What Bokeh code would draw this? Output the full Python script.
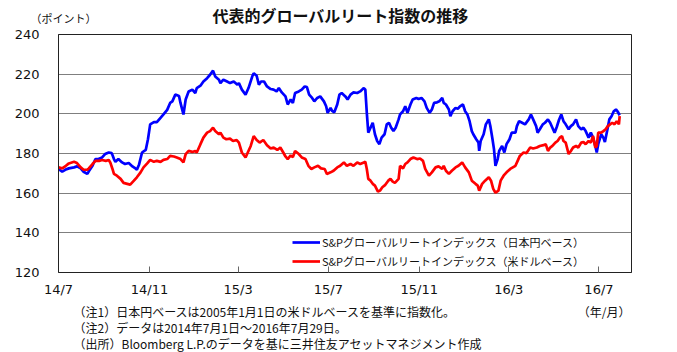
import pandas as pd
from bokeh.plotting import figure
from bokeh.layouts import column
from bokeh.models import Range1d, FixedTicker, Label, Legend, LegendItem
from bokeh.embed import file_html
from bokeh.resources import INLINE

# ---------------- data ----------------
start_date = "2014-07-01"
tick_dates = ["2014-07-01", "2014-11-01", "2015-03-01", "2015-07-01",
              "2015-11-01", "2016-03-01", "2016-07-01"]
tick_labels = ["14/7", "14/11", "15/3", "15/7", "15/11", "16/3", "16/7"]
y_ticks = [120, 140, 160, 180, 200, 220, 240]

# days since 2014-07-01 / index values, S&P Global REIT (JPY basis)
jpy_days = [0, 5, 9, 14, 21, 25, 30, 34, 39, 41, 46, 50, 54, 59, 63, 68, 72, 75, 77, 81,
            86, 90, 95, 100, 104, 106, 109, 113, 118, 121, 124, 129, 133, 138, 142, 147,
            151, 154, 158, 163, 165, 169, 172, 176, 181, 185, 187, 192, 196, 201, 205, 209,
            212, 217, 219, 223, 228, 232, 237, 242, 244, 248, 253, 257, 262, 264, 268, 271,
            274, 278, 282, 287, 291, 295, 298, 302, 307, 310, 314, 317, 320, 325, 329, 333,
            336, 339, 343, 346, 350, 354, 359, 362, 364, 368, 370, 373, 377, 380, 383, 388,
            391, 395, 399, 404, 408, 413, 415, 417, 419, 422, 425, 428, 431, 434, 437, 441,
            444, 447, 450, 453, 456, 460, 462, 466, 469, 472, 476, 479, 484, 487, 491, 495,
            498, 502, 505, 508, 512, 515, 519, 521, 524, 528, 530, 533, 537, 540, 543, 547,
            550, 553, 556, 559, 561, 565, 568, 569, 571, 575, 578, 582, 584, 587, 589, 591,
            594, 596, 600, 603, 606, 610, 613, 618, 620, 623, 627, 631, 636, 639, 642, 646,
            648, 651, 655, 658, 662, 665, 668, 671, 674, 677, 680, 683, 686, 690, 693, 696,
            700, 703, 707, 710, 713, 717, 720, 723, 726, 728, 730, 734, 737, 739, 742, 745,
            748, 751, 754, 756, 759]
jpy_vals = [172.2, 170.8, 171.8, 172.5, 173.0, 173.5, 172.5, 170.8, 169.7, 171.0, 173.8, 177.2,
            177.2, 178.0, 179.7, 180.5, 180.2, 177.2, 175.8, 177.2, 175.5, 174.7, 175.2, 173.5,
            172.5, 171.8, 174.5, 180.5, 181.8, 187.2, 194.7, 195.8, 195.8, 198.0, 199.7, 202.0,
            205.5, 206.3, 209.7, 209.0, 205.5, 199.7, 207.2, 211.3, 212.2, 210.5, 213.0, 214.2,
            216.3, 218.0, 219.7, 221.8, 218.8, 217.2, 215.5, 217.2, 216.3, 215.5, 216.3, 214.7,
            215.5, 212.2, 209.7, 213.0, 218.8, 220.5, 219.2, 214.7, 216.3, 216.3, 213.8, 212.5,
            212.2, 211.3, 213.0, 210.8, 208.8, 204.7, 207.2, 205.5, 210.5, 211.3, 212.2, 213.8,
            213.5, 209.7, 208.0, 206.3, 208.0, 208.8, 206.3, 203.8, 200.5, 203.0, 201.5, 200.8,
            204.7, 209.7, 210.5, 208.8, 207.2, 209.7, 210.8, 210.5, 211.3, 213.0, 212.2, 200.5,
            190.5, 193.0, 195.5, 189.7, 186.3, 184.7, 188.0, 189.7, 194.7, 195.5, 193.0, 191.3,
            193.0, 197.2, 199.7, 201.3, 203.8, 200.5, 204.7, 207.2, 208.0, 207.5, 208.0, 206.3,
            203.0, 200.5, 202.2, 205.5, 205.8, 206.3, 208.0, 205.5, 204.7, 202.2, 198.8, 201.3,
            203.0, 202.5, 203.8, 204.7, 201.3, 199.7, 196.3, 191.3, 189.7, 187.2, 185.5, 181.3,
            186.3, 189.7, 194.7, 197.2, 194.0, 187.2, 182.2, 173.8, 177.2, 181.3, 183.8, 180.5,
            184.7, 187.2, 190.5, 190.5, 193.8, 196.3, 195.5, 194.7, 197.2, 199.7, 197.2, 193.8,
            190.5, 192.2, 194.7, 195.5, 197.2, 195.5, 193.0, 190.5, 193.5, 197.0, 199.7, 196.3,
            194.7, 192.2, 193.8, 194.7, 197.2, 193.8, 192.2, 193.0, 191.3, 188.0, 190.5, 188.0,
            183.8, 180.5, 184.7, 189.7, 188.0, 185.8, 191.3, 197.2, 198.8, 201.3, 202.2, 201.3,
            199.3]

# S&P Global REIT (USD basis)
usd_days = [0, 5, 10, 14, 21, 25, 30, 34, 39, 41, 46, 50, 55, 59, 64, 68, 70, 73, 75, 79,
            84, 88, 93, 97, 102, 106, 111, 115, 120, 124, 129, 133, 138, 142, 147, 151, 156,
            160, 165, 169, 172, 176, 181, 185, 187, 192, 196, 201, 205, 209, 212, 217, 219,
            223, 227, 232, 236, 241, 244, 248, 253, 256, 260, 264, 268, 272, 277, 282, 287,
            291, 296, 300, 304, 307, 310, 314, 317, 320, 325, 329, 334, 338, 342, 346, 351,
            355, 360, 363, 368, 372, 377, 381, 386, 390, 395, 399, 404, 408, 413, 415, 417,
            419, 422, 425, 428, 432, 435, 438, 442, 446, 449, 452, 455, 460, 462, 466, 469,
            472, 476, 480, 485, 489, 493, 496, 501, 505, 510, 514, 519, 521, 524, 528, 532,
            537, 541, 546, 550, 555, 559, 564, 567, 569, 573, 577, 582, 585, 588, 591, 595,
            598, 602, 606, 611, 618, 621, 624, 629, 633, 638, 642, 647, 651, 656, 659, 662,
            665, 668, 672, 675, 678, 681, 683, 686, 690, 693, 696, 700, 703, 707, 710, 713,
            717, 720, 723, 726, 728, 730, 734, 737, 740, 743, 746, 749, 752, 755, 758, 759]
usd_vals = [173.0, 172.5, 173.8, 175.0, 175.8, 175.2, 173.0, 171.8, 171.8, 172.5, 174.7, 176.3,
            176.3, 176.7, 176.3, 176.7, 175.5, 172.2, 169.7, 168.8, 167.2, 165.2, 164.7, 164.3,
            166.3, 168.0, 170.5, 173.0, 175.0, 176.8, 175.8, 176.3, 175.8, 176.8, 177.2, 178.8,
            178.5, 178.0, 177.2, 175.5, 179.7, 181.3, 180.8, 181.3, 180.5, 184.7, 188.0, 190.5,
            191.3, 193.0, 191.3, 189.7, 190.5, 188.0, 187.2, 187.5, 186.3, 186.8, 185.5, 180.5,
            178.0, 180.5, 183.8, 188.8, 186.8, 185.5, 186.8, 184.2, 182.5, 183.0, 181.8, 183.0,
            180.5, 178.5, 177.2, 179.0, 178.2, 181.3, 179.7, 178.0, 177.2, 173.8, 172.2, 173.0,
            173.8, 172.5, 172.2, 169.7, 170.5, 171.3, 173.0, 173.8, 175.5, 173.8, 174.7, 173.8,
            175.5, 174.7, 175.5, 175.8, 172.2, 167.2, 166.3, 164.7, 163.8, 160.8, 161.3, 163.0,
            164.2, 166.3, 167.2, 165.8, 165.2, 167.2, 173.8, 172.5, 174.7, 175.5, 177.2, 178.0,
            177.2, 177.5, 176.3, 172.2, 168.8, 170.5, 173.0, 173.5, 172.2, 173.8, 171.3, 169.7,
            171.3, 173.0, 173.8, 175.5, 173.0, 170.5, 166.3, 164.7, 163.8, 161.3, 164.7, 166.3,
            168.0, 166.3, 162.2, 160.2, 161.3, 166.3, 168.8, 170.5, 172.2, 173.8, 176.3, 178.8,
            180.5, 180.2, 183.0, 182.5, 183.0, 183.8, 184.2, 184.7, 181.3, 183.0, 183.8, 185.5,
            186.3, 188.0, 188.8, 186.3, 185.5, 179.7, 181.3, 183.0, 183.8, 183.0, 185.5, 185.8,
            184.7, 186.3, 185.5, 188.8, 183.0, 183.8, 190.5, 190.5, 191.3, 192.2, 193.8, 194.7,
            195.5, 194.7, 196.3, 194.7, 198.8]

series_names = ["S&Pグローバルリートインデックス（日本円ベース）",
                "S&Pグローバルリートインデックス（米ドルベース）"]
series_colors = ["#0000FF", "#FF0000"]

title_text = "代表的グローバルリート指数の推移"
y_unit_text = "（ポイント）"
x_unit_text = "（年/月）"
notes = ["（注1）日本円ベースは2005年1月1日の米ドルベースを基準に指数化。",
         "（注2）データは2014年7月1日～2016年7月29日。",
         "（出所）Bloomberg L.P.のデータを基に三井住友アセットマネジメント作成"]

JP = "Noto Sans CJK JP"
NUM = "DejaVu Sans"
W = 677
HEAD_H, MAIN_H, FOOT_H = 26, 273, 53


def text_panel(height):
    f = figure(width=W, height=height, x_range=Range1d(0, W), y_range=Range1d(height, 0),
               output_backend="svg", toolbar_location=None, x_axis_type=None, y_axis_type=None,
               min_border=0, min_border_left=0, min_border_right=0,
               min_border_top=0, min_border_bottom=0)
    f.frame_align = False
    f.outline_line_color = None
    f.background_fill_color = "white"
    f.border_fill_color = "white"
    f.grid.visible = False
    return f


# ---------------- header ----------------
head = text_panel(HEAD_H)
head.add_layout(Label(x=340, y=14.6, text=title_text, text_align="center",
                      text_baseline="middle", text_font=JP, text_font_size="16px",
                      text_font_style="bold", text_color="#111111"))
head.add_layout(Label(x=63, y=17.8, text=y_unit_text, text_align="center",
                      text_baseline="middle", text_font=JP, text_font_size="11px",
                      text_color="#111111"))

# ---------------- main chart ----------------
t0 = pd.Timestamp(start_date)
tick_days = [(pd.Timestamp(d) - t0).days for d in tick_dates]

p = figure(width=W, height=MAIN_H, x_range=Range1d(0, 775), y_range=Range1d(120, 240),
           output_backend="svg", toolbar_location=None,
           min_border_left=58, min_border_right=46, min_border_top=8, min_border_bottom=26)
p.frame_align = False
p.background_fill_color = "white"
p.border_fill_color = "white"
p.outline_line_color = "#222222"
p.outline_line_width = 1

p.xgrid.visible = False
p.ygrid.ticker = FixedTicker(ticks=y_ticks)
p.ygrid.grid_line_color = "#7f7f7f"
p.ygrid.grid_line_width = 1

p.yaxis.ticker = FixedTicker(ticks=y_ticks)
p.yaxis.major_tick_line_color = None
p.yaxis.minor_tick_line_color = None
p.yaxis.axis_line_color = "#222222"
p.yaxis.major_label_standoff = 13
p.yaxis.major_label_text_font = NUM
p.yaxis.major_label_text_font_size = "13px"
p.yaxis.major_label_text_color = "#111111"

p.xaxis.ticker = FixedTicker(ticks=tick_days)
p.xaxis.major_label_overrides = {int(d): lbl for d, lbl in zip(tick_days, tick_labels)}
p.xaxis.major_tick_in = 6
p.xaxis.major_tick_out = 0
p.xaxis.major_tick_line_color = "#666666"
p.xaxis.minor_tick_line_color = None
p.xaxis.axis_line_color = "#222222"
p.xaxis.major_label_standoff = 9
p.xaxis.major_label_text_font = NUM
p.xaxis.major_label_text_font_size = "13px"
p.xaxis.major_label_text_color = "#111111"

r_jpy = p.line(jpy_days, jpy_vals, line_color=series_colors[0], line_width=2.7)
r_usd = p.line(usd_days, usd_vals, line_color=series_colors[1], line_width=2.7)

legend = Legend(items=[LegendItem(label=series_names[0], renderers=[r_jpy]),
                       LegendItem(label=series_names[1], renderers=[r_usd])],
                location=(234, 3), padding=0, margin=0, spacing=3,
                glyph_width=28, glyph_height=16, label_height=16, label_standoff=2,
                label_text_font=JP, label_text_font_size="11px",
                label_text_color="#111111",
                border_line_alpha=0, background_fill_alpha=0)
p.add_layout(legend)

# ---------------- footer ----------------
foot = text_panel(FOOT_H)
foot.add_layout(Label(x=630, y=12, text=x_unit_text, text_align="right",
                      text_baseline="middle", text_font=JP, text_font_size="12px",
                      text_color="#111111"))
for note, yy in zip(notes, [12, 28, 44]):
    foot.add_layout(Label(x=73, y=yy, text=note, text_align="left",
                          text_baseline="middle", text_font=JP, text_font_size="12px",
                          text_color="#111111"))

layout = column(head, p, foot, spacing=0)
open("out.html", "w").write(file_html(layout, INLINE))
